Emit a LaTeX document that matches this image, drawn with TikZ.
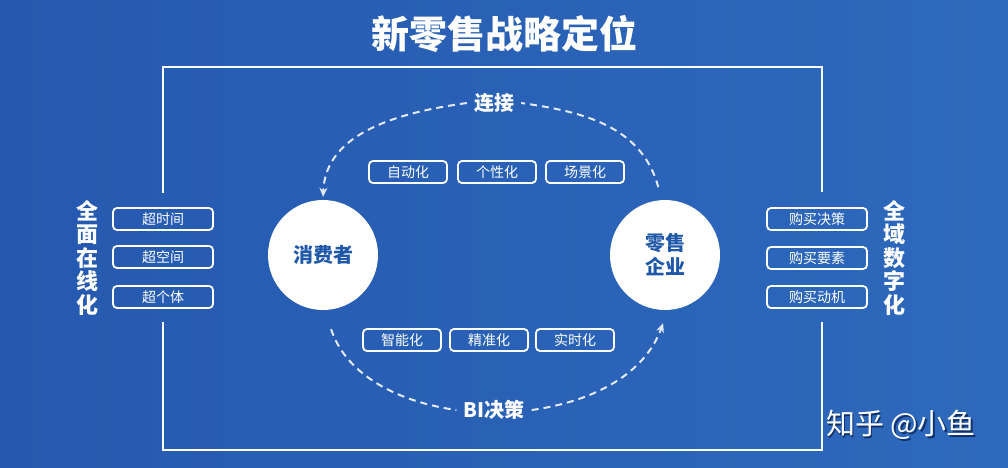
\documentclass[tikz,border=0pt]{standalone}
\usepackage{fontspec}
\newfontfamily\cjk{Noto Sans CJK SC}
\usetikzlibrary{arrows.meta}
\definecolor{bgL}{HTML}{2559AF}
\definecolor{bgR}{HTML}{2D69BC}
\definecolor{circblue}{HTML}{1F58A8}
\definecolor{dashc}{HTML}{E3EAF6}
\definecolor{shadowc}{HTML}{10306A}
\tikzset{
  tagbox/.style={draw=white, line width=1.8pt, rounded corners=4pt, minimum width=100pt, minimum height=22pt, inner sep=0pt, text=white, font=\cjk\fontsize{14}{14}\selectfont},
  midtag/.style={tagbox, minimum width=78pt},
  circnode/.style={circle, fill=white, minimum size=110pt, inner sep=0pt, text=circblue, align=center, font=\cjk\bfseries\fontsize{20}{24}\selectfont},
  vtext/.style={text=white, align=center, font=\cjk\bfseries\fontsize{22}{23.5}\selectfont},
  arclabel/.style={text=white, inner sep=7pt, font=\cjk\bfseries\fontsize{20}{20}\selectfont},
  dashline/.style={draw=dashc, line width=2pt, dash pattern=on 7pt off 5pt},
  frame/.style={draw=white, line width=1.5pt},
  tip/.style={-{Stealth[length=9pt,width=8pt]}}
}
\begin{document}
\begin{tikzpicture}[x=1pt,y=1pt]
\shade[left color=bgL, right color=bgR] (0,0) rectangle (1008,-467);
\useasboundingbox (0,0) rectangle (1008,-467);

% title
\node[text=white, font=\cjk\bfseries\fontsize{38}{38}\selectfont] (title) at (504,-34) {新零售战略定位};

% frame
\coordinate (ftl) at (163,-67);
\coordinate (ftr) at (822,-67);
\coordinate (fbl) at (163,-450);
\coordinate (fbr) at (822,-450);
\coordinate (fl1) at (163,-193);
\coordinate (fl2) at (163,-322);
\coordinate (fr1) at (822,-192);
\coordinate (fr2) at (822,-322);
\draw[frame] (fl1) -- (ftl) -- (ftr) -- (fr1);
\draw[frame] (fl2) -- (fbl) -- (fbr) -- (fr2);

% side texts
\node[vtext] (lv) at (87,-258) {全\\面\\在\\线\\化};
\node[vtext] (rv) at (894,-258) {全\\域\\数\\字\\化};

% left boxes
\node[tagbox] (l1) at (163,-219) {超时间};
\node[tagbox] (l2) at (163,-257) {超空间};
\node[tagbox] (l3) at (163,-297) {超个体};

% right boxes
\node[tagbox] (r1) at (817,-219) {购买决策};
\node[tagbox] (r2) at (817,-258) {购买要素};
\node[tagbox] (r3) at (817,-297) {购买动机};

% circles
\node[circnode] (cons) at (323,-255) {消费者};
\node[circnode] (ent) at (665,-255) {零售\\企业};

% mid boxes
\node[midtag] (t1) at (408,-172) {自动化};
\node[midtag] (t2) at (497,-172) {个性化};
\node[midtag] (t3) at (585,-172) {场景化};
\node[midtag] (b1) at (402,-340) {智能化};
\node[midtag] (b2) at (489,-340) {精准化};
\node[midtag] (b3) at (575,-340) {实时化};

% arc labels
\node[arclabel] (lj) at (494,-103) {连接};
\node[arclabel] (bi) at (494,-410) {BI决策};

% arcs
\draw[dashline] (ent.97) ++(0,13) coordinate (ts) (ts) to[out=105,in=-8] (lj.east);
\draw[dashline,tip,shorten >=3pt] (lj.west) to[out=188,in=88] (cons.north);
\draw[dashline,shorten <=20pt] (cons.272) to[out=-72,in=172] (bi.west);
\draw[dashline,tip,shorten >=14pt] (bi.east) to[out=8,in=-110] (ent.-87);

% watermark
\node[text=shadowc, font=\cjk\fontsize{29}{29}\selectfont] (wms) at (902.5,-426.5) {知乎 @小鱼};
\node[text=white, font=\cjk\fontsize{29}{29}\selectfont] (wm) at (901,-425) {知乎 @小鱼};
\end{tikzpicture}
\end{document}
